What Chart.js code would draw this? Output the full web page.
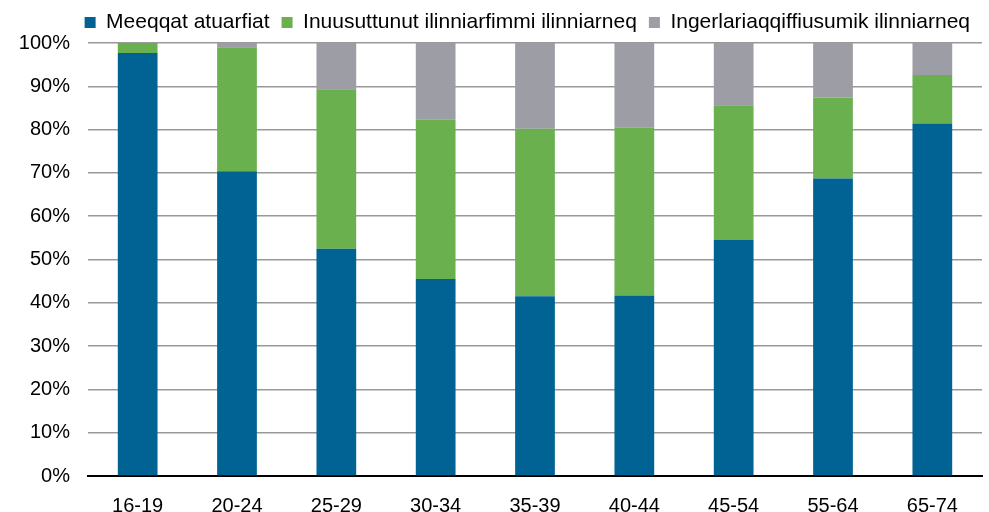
<!DOCTYPE html>
<html>
<head>
<meta charset="utf-8">
<script src="https://cdn.jsdelivr.net/npm/chart.js@4.4.1/dist/chart.umd.min.js"></script>
<style>
  html, body { margin: 0; padding: 0; background: #fff; }
  #wrap { width: 989px; height: 512px; }
</style>
</head>
<body>
<div id="wrap"><canvas id="chart" width="989" height="512"></canvas></div>
<script>
var ageGroups = ['16-19', '20-24', '25-29', '30-34', '35-39', '40-44', '45-54', '55-64', '65-74'];
var meeqqat = [97.7, 70.4, 52.5, 45.5, 41.5, 41.7, 54.5, 68.7, 81.4];
var inuusuttunut = [2.3, 28.6, 36.8, 36.8, 38.7, 38.7, 31.1, 18.7, 11.2];
var ingerlariaq = [0, 1.0, 10.7, 17.7, 19.8, 19.6, 14.4, 12.6, 7.4];

var ctx = document.getElementById('chart').getContext('2d');
Chart.defaults.font.family = '"Liberation Sans", Arial, sans-serif';
Chart.defaults.color = '#000';

var myChart = new Chart(ctx, {
  type: 'bar',
  data: {
    labels: ageGroups,
    datasets: [{
      label: 'Meeqqat atuarfiat',
      data: meeqqat,
      backgroundColor: '#006394'
    }, {
      label: 'Inuusuttunut ilinniarfimmi ilinniarneq',
      data: inuusuttunut,
      backgroundColor: '#6ab04f'
    }, {
      label: 'Ingerlariaqqiffiusumik ilinniarneq',
      data: ingerlariaq,
      backgroundColor: '#9d9da5'
    }]
  },
  options: {
    responsive: false,
    animation: false,
    layout: { padding: { left: 6, right: 7, top: 0, bottom: 0 } },
    datasets: { bar: { categoryPercentage: 1, barPercentage: 0.4 } },
    plugins: {
      tooltip: { enabled: false },
      legend: {
        position: 'top',
        align: 'end',
        labels: {
          boxWidth: 11,
          boxHeight: 11,
          padding: 12,
          font: { size: 21 },
          color: '#000'
        }
      }
    },
    scales: {
      x: {
        stacked: true,
        grid: { display: false },
        border: { color: '#000', width: 2 },
        ticks: { font: { size: 20 }, color: '#000', padding: 10 },
        afterFit: function (scale) { scale.height = 36; }
      },
      y: {
        stacked: true,
        min: 0,
        max: 100,
        grid: { color: '#999', lineWidth: 1.5, drawTicks: false },
        border: { display: false },
        ticks: {
          stepSize: 10,
          padding: 18,
          font: { size: 20 },
          color: '#000',
          callback: function (v) { return v + '%'; }
        },
        afterFit: function (scale) { scale.width = 82; }
      }
    }
  }
});
</script>
</body>
</html>
